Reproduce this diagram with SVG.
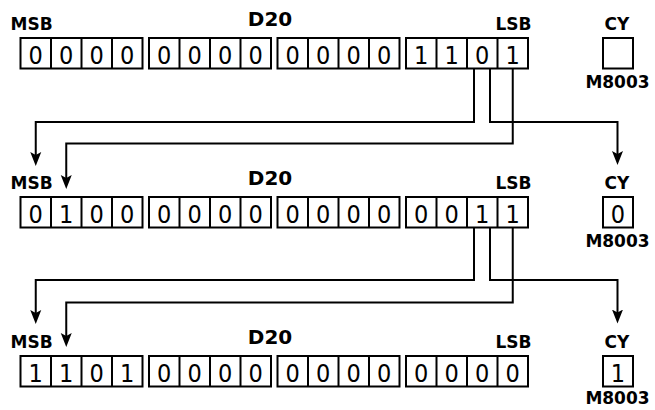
<svg xmlns="http://www.w3.org/2000/svg" width="655" height="410" viewBox="0 0 655 410">
<style>
.box{fill:#fff;stroke:#000;stroke-width:2}
.dv{stroke:#000;stroke-width:2}
.bit{font-family:"DejaVu Sans Condensed","DejaVu Sans",sans-serif;font-stretch:condensed;font-size:25px;text-anchor:middle;fill:#000}
.lbl{font-family:"DejaVu Sans",Verdana,sans-serif;font-weight:bold;font-size:17px;fill:#000}
.ttl{font-family:"DejaVu Sans",Verdana,sans-serif;font-weight:bold;font-size:20px;fill:#000;text-anchor:middle}
.mid{text-anchor:middle}
.end{text-anchor:end}
.wire{fill:none;stroke:#000;stroke-width:2;marker-end:url(#ah)}
</style>
<defs>
<marker id="ah" markerUnits="userSpaceOnUse" markerWidth="16" markerHeight="12" viewBox="0 0 16 12" refX="6" refY="6" orient="auto">
<path d="M0,0.5 L14,6 L0,11.5 L3,6 Z" fill="#000"/>
</marker>
<g id="reg">
<rect class="box" x="0" y="0" width="122" height="30.5"/>
<line class="dv" x1="30.5" y1="0" x2="30.5" y2="30.5"/>
<line class="dv" x1="61" y1="0" x2="61" y2="30.5"/>
<line class="dv" x1="91.5" y1="0" x2="91.5" y2="30.5"/>
</g>
</defs>

<g id="row1-d20">
<text class="lbl" x="10.5" y="30">MSB</text>
<text class="ttl" x="270" y="26">D20</text>
<text class="lbl end" x="531.5" y="30">LSB</text>
<use href="#reg" x="20.5" y="38"/>
<use href="#reg" x="149" y="38"/>
<use href="#reg" x="277.5" y="38"/>
<use href="#reg" x="406" y="38"/>
<text class="bit" y="64"><tspan x="35.75">0</tspan><tspan x="66.25">0</tspan><tspan x="96.75">0</tspan><tspan x="127.25">0</tspan><tspan x="164.25">0</tspan><tspan x="194.75">0</tspan><tspan x="225.25">0</tspan><tspan x="255.75">0</tspan><tspan x="292.75">0</tspan><tspan x="323.25">0</tspan><tspan x="353.75">0</tspan><tspan x="384.25">0</tspan><tspan x="421.25">1</tspan><tspan x="451.75">1</tspan><tspan x="482.25">0</tspan><tspan x="512.75">1</tspan></text>
</g>
<g id="row1-cy">
<text class="lbl mid" x="617" y="29.5">CY</text>
<rect class="box" x="603" y="38" width="30" height="30.5"/>
<text class="lbl mid" x="617.5" y="88">M8003</text>
</g>

<g id="row2-d20">
<text class="lbl" x="10.5" y="189">MSB</text>
<text class="ttl" x="270" y="185">D20</text>
<text class="lbl end" x="531.5" y="189">LSB</text>
<use href="#reg" x="20.5" y="197"/>
<use href="#reg" x="149" y="197"/>
<use href="#reg" x="277.5" y="197"/>
<use href="#reg" x="406" y="197"/>
<text class="bit" y="223"><tspan x="35.75">0</tspan><tspan x="66.25">1</tspan><tspan x="96.75">0</tspan><tspan x="127.25">0</tspan><tspan x="164.25">0</tspan><tspan x="194.75">0</tspan><tspan x="225.25">0</tspan><tspan x="255.75">0</tspan><tspan x="292.75">0</tspan><tspan x="323.25">0</tspan><tspan x="353.75">0</tspan><tspan x="384.25">0</tspan><tspan x="421.25">0</tspan><tspan x="451.75">0</tspan><tspan x="482.25">1</tspan><tspan x="512.75">1</tspan></text>
</g>
<g id="row2-cy">
<text class="lbl mid" x="617" y="188.5">CY</text>
<rect class="box" x="603" y="197" width="30" height="30.5"/>
<text class="bit" x="618" y="223">0</text>
<text class="lbl mid" x="617.5" y="247">M8003</text>
</g>

<g id="row3-d20">
<text class="lbl" x="10.5" y="348">MSB</text>
<text class="ttl" x="270" y="344">D20</text>
<text class="lbl end" x="531.5" y="348">LSB</text>
<use href="#reg" x="20.5" y="356"/>
<use href="#reg" x="149" y="356"/>
<use href="#reg" x="277.5" y="356"/>
<use href="#reg" x="406" y="356"/>
<text class="bit" y="382"><tspan x="35.75">1</tspan><tspan x="66.25">1</tspan><tspan x="96.75">0</tspan><tspan x="127.25">1</tspan><tspan x="164.25">0</tspan><tspan x="194.75">0</tspan><tspan x="225.25">0</tspan><tspan x="255.75">0</tspan><tspan x="292.75">0</tspan><tspan x="323.25">0</tspan><tspan x="353.75">0</tspan><tspan x="384.25">0</tspan><tspan x="421.25">0</tspan><tspan x="451.75">0</tspan><tspan x="482.25">0</tspan><tspan x="512.75">0</tspan></text>
</g>
<g id="row3-cy">
<text class="lbl mid" x="617" y="347.5">CY</text>
<rect class="box" x="603" y="356" width="30" height="30.5"/>
<text class="bit" x="618" y="382">1</text>
<text class="lbl mid" x="617.5" y="404">M8003</text>
</g>

<g id="connectors">
<path class="wire" d="M474,69 V122 H35.75 V158"/>
<path class="wire" d="M490,69 V122 H617.5 V157"/>
<path class="wire" d="M512.75,69 V143.5 H66.25 V181"/>
<path class="wire" d="M474,228 V280 H35.75 V316"/>
<path class="wire" d="M490,228 V280 H617.5 V315.5"/>
<path class="wire" d="M512.75,228 V302.5 H66.25 V339"/>
</g>
</svg>
